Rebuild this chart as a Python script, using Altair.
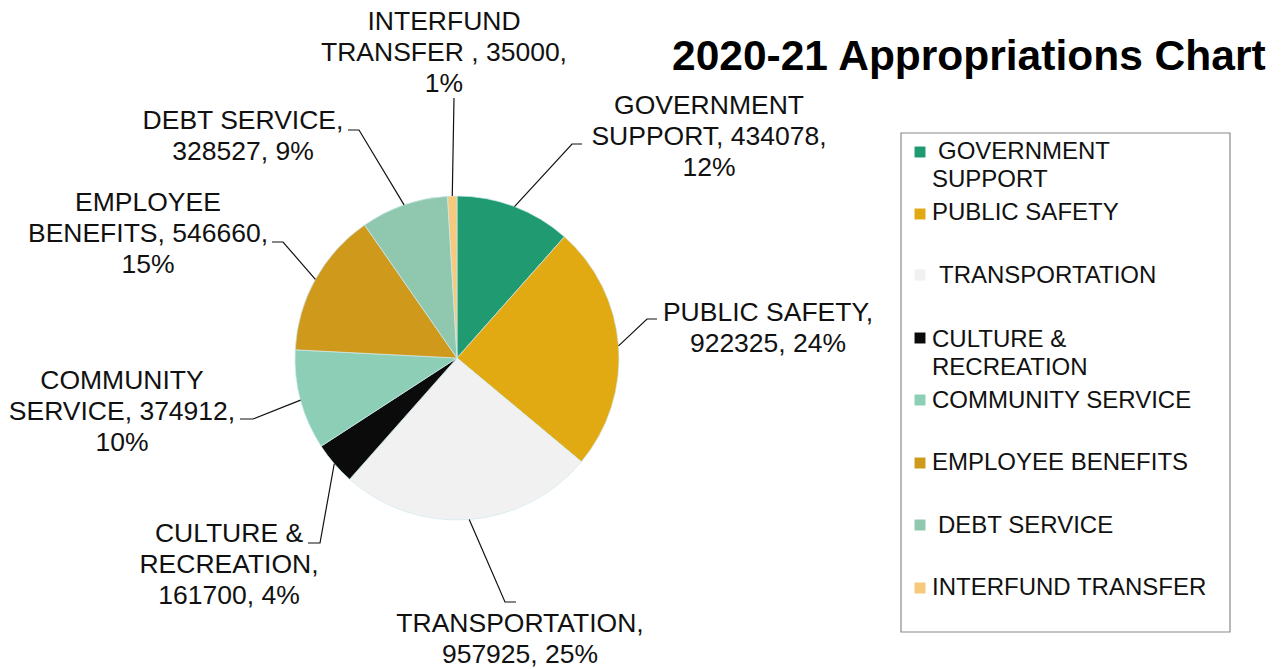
import math
import altair as alt
import pandas as pd

# ---------------- data ----------------
categories = [
    "GOVERNMENT SUPPORT", "PUBLIC SAFETY", "TRANSPORTATION", "CULTURE & RECREATION",
    "COMMUNITY SERVICE", "EMPLOYEE BENEFITS", "DEBT SERVICE", "INTERFUND TRANSFER",
]
values = [434078, 922325, 957925, 161700, 374912, 546660, 328527, 35000]
percent_labels = ["12%", "24%", "25%", "4%", "10%", "15%", "9%", "1%"]
colors = ["#1f9a71", "#e1a912", "#f1f1f1", "#0b0b0b", "#8dcfb6", "#cf9a1c", "#90c8af", "#f6c97d"]

label_texts = [
    f"GOVERNMENT\nSUPPORT, {values[0]},\n{percent_labels[0]}",
    f"PUBLIC SAFETY,\n{values[1]}, {percent_labels[1]}",
    f"TRANSPORTATION,\n{values[2]}, {percent_labels[2]}",
    f"CULTURE &\nRECREATION,\n{values[3]}, {percent_labels[3]}",
    f"COMMUNITY\nSERVICE, {values[4]},\n{percent_labels[4]}",
    f"EMPLOYEE\nBENEFITS, {values[5]},\n{percent_labels[5]}",
    f"DEBT SERVICE,\n{values[6]}, {percent_labels[6]}",
    f"INTERFUND\nTRANSFER , {values[7]},\n{percent_labels[7]}",
]
# legend text, one entry per printed line
legend_lines = [
    "GOVERNMENT", "SUPPORT", "PUBLIC SAFETY", "TRANSPORTATION", "CULTURE &", "RECREATION",
    "COMMUNITY SERVICE", "EMPLOYEE BENEFITS", "DEBT SERVICE", "INTERFUND TRANSFER",
]
title_text = "2020-21 Appropriations Chart"

# ---------------- layout ----------------
W, H = 1287, 669
CX, CY, R = 457, 358, 162
FONT = "Liberation Sans"
label_anchor = [(709, 114), (768, 321), (520, 662), (229, 542),
                (122, 389), (148, 211), (243, 129), (444, 30)]
label_anchor[2] = (520, 632)
leader_outer = [
    [(582, 144), (572, 144)],
    [(657, 319), (647, 319)],
    [(516, 602), (505, 602)],
    [(308, 543), (320, 543)],
    [(240, 419), (253, 419)],
    [(272, 242), (283, 242)],
    [(348, 130), (359, 130)],
    [(454, 98)],
]
legend_box = (901, 133, 1230, 632)
legend_sq = [(920, 152), (920, 214), (920, 275), (920, 338),
             (920, 400), (920, 463), (920, 525), (920, 588)]
legend_txt = [(938, 159), (932, 187), (932, 220), (939, 283), (932, 347), (932, 375),
              (932, 408), (932, 470), (938, 533), (932, 595)]
title_pos = (672, 70)

# ---------------- tables ----------------
pie_df = pd.DataFrame({"category": categories, "value": values,
                       "order": list(range(len(categories)))})

total = sum(values)
cum = 0.0
leader_rows = []
for i, v in enumerate(values):
    mid = (cum + v / 2) / total * 2 * math.pi
    cum += v
    pts = list(leader_outer[i]) + [(CX + R * math.sin(mid), CY - R * math.cos(mid))]
    for j, (px, py) in enumerate(pts):
        leader_rows.append({"id": i, "idx": j, "px": px, "py": py})
leader_df = pd.DataFrame(leader_rows)

label_df = pd.DataFrame({"text": label_texts,
                         "px": [p[0] for p in label_anchor],
                         "py": [p[1] for p in label_anchor]})

legend_sq_df = pd.DataFrame({"category": categories,
                             "px": [p[0] for p in legend_sq],
                             "py": [p[1] for p in legend_sq]})
legend_txt_df = pd.DataFrame({"text": legend_lines,
                              "px": [p[0] for p in legend_txt],
                              "py": [p[1] for p in legend_txt]})
box_df = pd.DataFrame({"x1": [legend_box[0]], "y1": [legend_box[1]],
                       "x2": [legend_box[2]], "y2": [legend_box[3]]})
title_df = pd.DataFrame({"text": [title_text], "px": [title_pos[0]], "py": [title_pos[1]]})

xs = alt.Scale(domain=[0, W], nice=False, zero=False)
ys = alt.Scale(domain=[0, H], nice=False, zero=False, reverse=True)
color_scale = alt.Scale(domain=categories, range=colors)


def X(f):
    return alt.X(f, type="quantitative", scale=xs, axis=None)


def Y(f):
    return alt.Y(f, type="quantitative", scale=ys, axis=None)


pie = alt.Chart(pie_df).mark_arc(radius=R, stroke="#cfe9f1", strokeWidth=0.7).encode(
    theta=alt.Theta("value:Q", stack=True),
    color=alt.Color("category:N", scale=color_scale, legend=None),
    order=alt.Order("order:Q"),
    x=alt.value(CX),
    y=alt.value(CY),
)

leaders = alt.Chart(leader_df).mark_line(color="#111111", strokeWidth=1.2).encode(
    x=X("px"), y=Y("py"), detail="id:N", order="idx:Q"
)

labels = alt.Chart(label_df).mark_text(
    font=FONT, fontSize=26.5, lineHeight=31, lineBreak="\n", align="center",
    baseline="alphabetic", color="#111111"
).encode(x=X("px"), y=Y("py"), text="text:N")

box = alt.Chart(box_df).mark_rect(fill="white", stroke="#8a8a8a", strokeWidth=1.2).encode(
    x=X("x1"), x2="x2:Q", y=Y("y1"), y2="y2:Q"
)

legend_squares = alt.Chart(legend_sq_df).mark_square(size=120, opacity=1).encode(
    x=X("px"), y=Y("py"),
    color=alt.Color("category:N", scale=color_scale, legend=None),
)

legend_labels = alt.Chart(legend_txt_df).mark_text(
    font=FONT, fontSize=24, align="left", baseline="alphabetic", color="#111111"
).encode(x=X("px"), y=Y("py"), text="text:N")

title = alt.Chart(title_df).mark_text(
    font=FONT, fontSize=42.5, fontWeight="bold", align="left",
    baseline="alphabetic", color="#000000"
).encode(x=X("px"), y=Y("py"), text="text:N")

chart = alt.layer(
    box, pie, leaders, labels, legend_squares, legend_labels, title
).properties(
    width=W, height=H, autosize=alt.AutoSizeParams(type="none"), padding=0,
    background="white",
).configure_view(stroke=None)

chart.save("out.html", embed_options={"renderer": "svg", "actions": False})
